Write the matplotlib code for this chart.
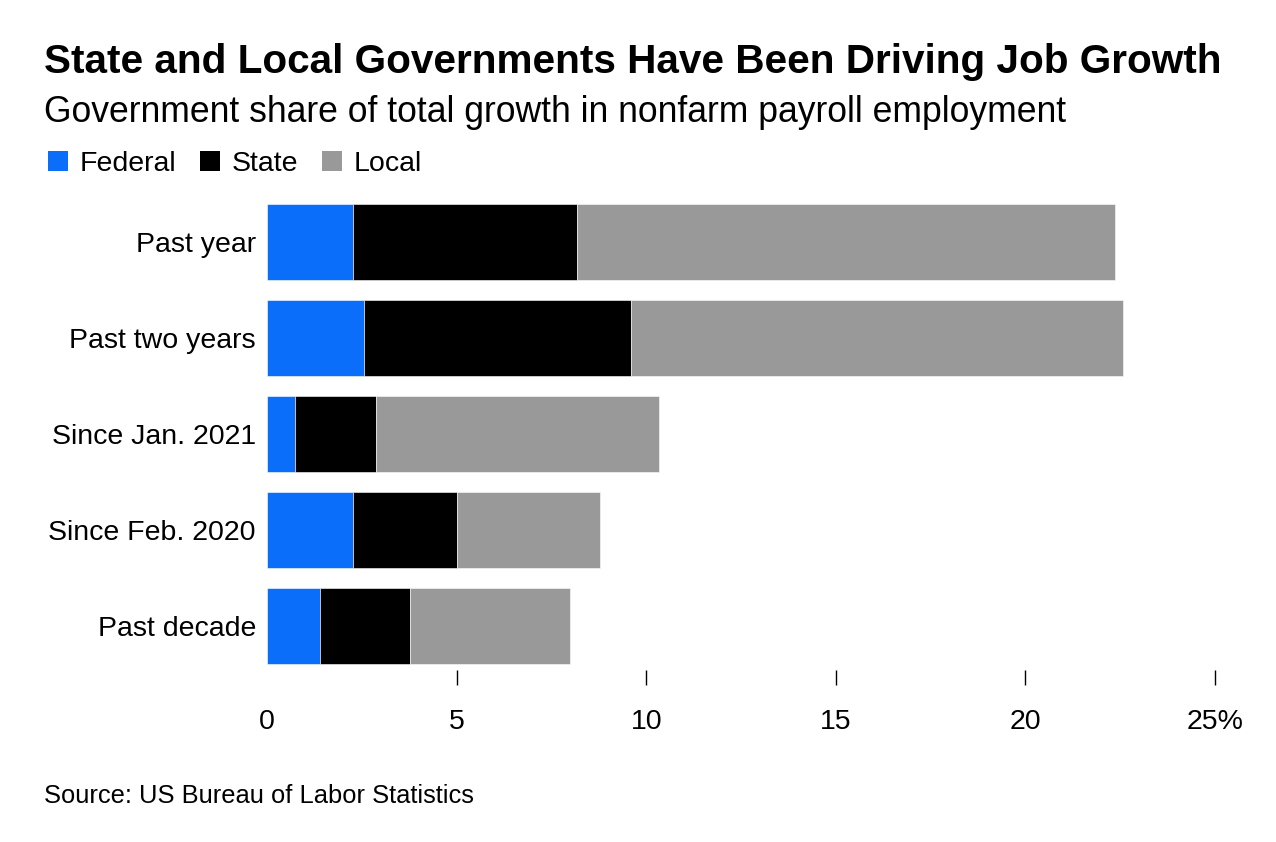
import matplotlib
matplotlib.use("Agg")
import matplotlib.pyplot as plt
from matplotlib.patches import Patch

plt.rcParams["font.family"] = ["Liberation Sans", "DejaVu Sans"]

# data (percent of total nonfarm growth)
periods = ["Past year", "Past two years", "Since Jan. 2021", "Since Feb. 2020", "Past decade"]
federal = [2.26, 2.55, 0.74, 2.26, 1.39]
state = [5.92, 7.05, 2.13, 2.74, 2.37]
local = [14.19, 12.98, 7.47, 3.79, 4.24]

series_names = ["Federal", "State", "Local"]
colors = ["#0A6EFA", "#000000", "#999999"]
xticks = [0, 5, 10, 15, 20, 25]
xtick_labels = ["0", "5", "10", "15", "20", "25%"]

W, H = 1276, 842
fig = plt.figure(figsize=(W / 100, H / 100), dpi=100)

# axes box in pixels: left 267, right 1215, top 194, bottom 670
left, right, top, bottom = 267, 1215, 194, 670
ax = fig.add_axes([left / W, 1 - bottom / H, (right - left) / W, (bottom - top) / H])

y = list(range(len(periods)))
starts = [0] * len(periods)
for vals, name, col in zip([federal, state, local], series_names, colors):
    ax.barh(y, vals, left=starts, height=0.79, color=col, label=name,
            edgecolor="white", linewidth=0.4)
    starts = [s + v for s, v in zip(starts, vals)]

ax.set_xlim(0, 25)
ax.set_ylim(4 + 44 / 96, -0.5)
ax.set_yticks(y)
ax.set_yticklabels(periods, fontsize=20.5)
ax.tick_params(axis="y", length=0, pad=8)
ax.set_xticks(xticks)
ax.set_xticklabels(xtick_labels, fontsize=20.5)
ax.tick_params(axis="x", length=11, width=1, direction="out", pad=17, color="#000000")
# no tick mark at zero
ax.xaxis.get_major_ticks()[0].tick1line.set_visible(False)
for s in ax.spines.values():
    s.set_visible(False)

fig.text(44 / W, 1 - 62 / H, "State and Local Governments Have Been Driving Job Growth",
         fontsize=29.2, fontweight="bold", va="center", ha="left")
fig.text(44 / W, 1 - 113 / H, "Government share of total growth in nonfarm payroll employment",
         fontsize=25.6, va="center", ha="left")
fig.text(44 / W, 1 - 796 / H, "Source: US Bureau of Labor Statistics",
         fontsize=18.4, va="center", ha="left")

handles = [Patch(facecolor=c, edgecolor="none", label=n) for n, c in zip(series_names, colors)]
fig.legend(handles=handles, loc="center left", bbox_to_anchor=(48 / W, 1 - 164 / H),
           ncol=3, frameon=False, fontsize=20.5, handlelength=0.7, handleheight=0.7,
           handletextpad=0.4, columnspacing=0.85, borderaxespad=0, borderpad=0)

fig.savefig("out.png", dpi=100)
